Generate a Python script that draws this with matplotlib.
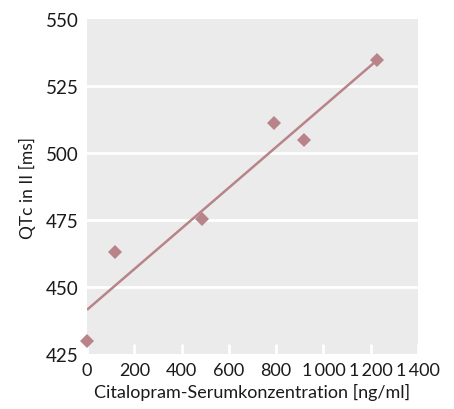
import matplotlib
matplotlib.use("Agg")
import matplotlib.pyplot as plt

plt.rcParams['font.family'] = ['Lato', 'DejaVu Sans']

conc = [0, 118, 485, 791, 918, 1225]
qtc = [430, 463.2, 475.4, 511.1, 504.7, 534.7]
fit_x = [0, 1225]
fit_y = [441.5, 534.5]
xticks = [0, 200, 400, 600, 800, 1000, 1200, 1400]
xticklabels = ['0', '200', '400', '600', '800', '1\u2009000', '1\u2009200', '1\u2009400']
yticks = [425, 450, 475, 500, 525, 550]

color = '#b8848a'
tc = '#1a1a1a'

fig = plt.figure(figsize=(4.54, 4.10), dpi=100)
ax = fig.add_axes([0.1916, 0.1341, 0.7291, 0.817])
ax.set_facecolor('#ebebeb')
for s in ax.spines.values():
    s.set_visible(False)

for y in yticks[1:-1]:
    ax.axhline(y, color='white', lw=2, zorder=1)
ax.plot(fit_x, fit_y, color=color, lw=1.8, zorder=2, solid_capstyle='butt')
ax.plot(conc, qtc, 'D', color=color, ms=7.2, mew=0, zorder=3, clip_on=False)

ax.set_xlim(0, 1400)
ax.set_ylim(425, 550)
ax.set_xticks(xticks)
ax.set_xticklabels(xticklabels)
ax.set_yticks(yticks)
ax.tick_params(axis='x', direction='in', length=7, width=2, color='white', pad=6, labelsize=13, labelcolor=tc)
ax.tick_params(axis='y', length=0, pad=6, labelsize=13.5, labelcolor=tc)
ax.set_xlabel('Citalopram-Serumkonzentration [ng/ml]', fontsize=13, color=tc, labelpad=3)
ax.set_ylabel('QTc in II [ms]', fontsize=12.5, color=tc, labelpad=7)

fig.savefig('out.png', dpi=100)
